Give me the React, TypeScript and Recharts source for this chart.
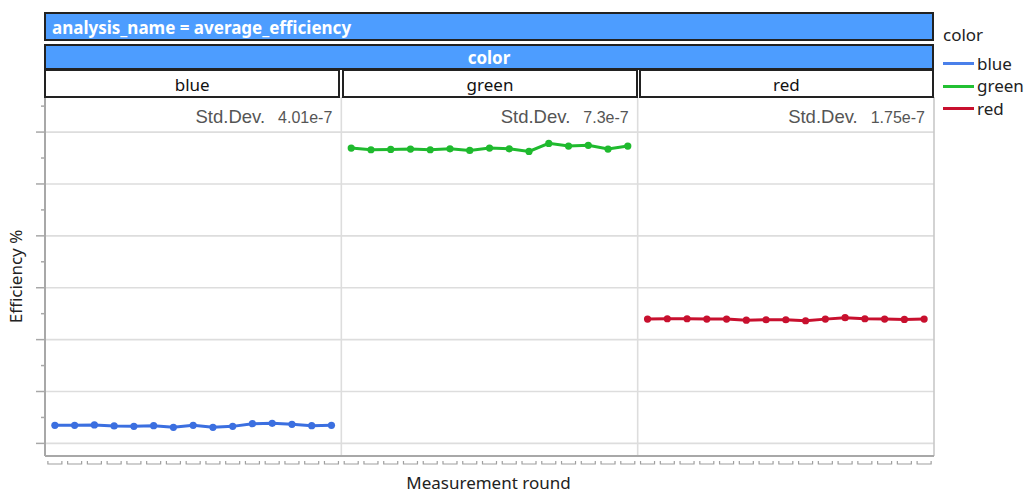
import React from 'react';
import { LineChart, Line, XAxis, YAxis, ReferenceLine } from 'recharts';

const panels = ['blue', 'green', 'red'];
const rounds = [1, 2, 3, 4, 5, 6, 7, 8, 9, 10, 11, 12, 13, 14, 15];
const blueValues = [13.48, 13.48, 13.55, 13.36, 13.28, 13.42, 13.09, 13.48, 13.09, 13.28, 13.8, 13.86, 13.67, 13.42, 13.48];
const greenValues = [66.91, 66.59, 66.66, 66.72, 66.59, 66.78, 66.47, 66.91, 66.78, 66.28, 67.82, 67.3, 67.44, 66.72, 67.3];
const redValues = [33.95, 34.02, 34.02, 33.95, 33.95, 33.75, 33.83, 33.83, 33.64, 33.95, 34.22, 34.02, 33.95, 33.89, 33.95];
const stdDevLabels = ['4.01e-7', '7.3e-7', '1.75e-7'];
const majorTicks = [10, 20, 30, 40, 50, 60, 70];
const minorTicks = [15, 25, 35, 45, 55, 65, 75];
const yDomain = [7.57, 76.76];
const seriesColors: Record<string, string> = { blue: '#3b6fe0', green: '#1fba2e', red: '#c8102e' };
const legendColors: Record<string, string> = { blue: '#4a80ea', green: '#22c032', red: '#c8102e' };

const panelValues: Record<string, number[]> = { blue: blueValues, green: greenValues, red: redValues };

const rows = panels.flatMap((p, pi) =>
  rounds.map((r, ri) => {
    const row: Record<string, number | null> = { idx: pi * rounds.length + ri, round: r };
    panels.forEach((q) => {
      row[q] = q === p ? panelValues[p][ri] : null;
    });
    return row;
  })
);

const xTicks = rows.map((r) => r.idx as number);
const yTicks = [...majorTicks, ...minorTicks].sort((a, b) => a - b);
const nRounds = rounds.length;
const panelBounds = [nRounds - 0.5, 2 * nRounds - 0.5];

const W = 1030;
const H = 499;
const M = { top: 97, right: 96, left: 15, bottom: 0 };
const Y_AXIS_W = 30;
const X_AXIS_H = 43;
const plotLeft = M.left + Y_AXIS_W;
const plotRight = W - M.right;
const plotW = plotRight - plotLeft;
const panelW = plotW / panels.length;

const uiFont = '"Noto Sans", "Open Sans", sans-serif';
const arial = '"Liberation Sans", Arial, sans-serif';

const XTick = (props: any) => {
  const { x, y } = props;
  return (
    <path d={`M${x - 7},${y + 5} L${x - 7},${y + 8} L${x + 7},${y + 8} L${x + 7},${y + 5}`} stroke="#a0a0a0" strokeWidth={1.2} fill="none" />
  );
};

const YTick = (props: any) => {
  const { x, y, payload } = props;
  const major = majorTicks.includes(payload.value);
  const len = major ? 9 : 4;
  return <line x1={x - len} y1={y} x2={x} y2={y} stroke="#a8a8a8" strokeWidth={1.5} />;
};

export default function App() {
  return (
    <div style={{ position: 'absolute', left: 0, top: 0, width: W, height: H, background: '#fff', fontFamily: uiFont }}>
      <LineChart width={W} height={H} data={rows} margin={M}>
        {majorTicks.map((t) => (
          <ReferenceLine key={'g' + t} y={t} stroke="#dddddd" strokeWidth={1.6} />
        ))}
        {panelBounds.map((b) => (
          <ReferenceLine key={'v' + b} x={b} stroke="#dddddd" strokeWidth={1.6} />
        ))}
        <ReferenceLine x={xTicks.length - 0.5} stroke="#c8c8c8" strokeWidth={1.6} />
        <XAxis
          type="number"
          dataKey="idx"
          domain={[-0.5, xTicks.length - 0.5]}
          ticks={xTicks}
          interval={0}
          allowDataOverflow
          height={X_AXIS_H}
          tickLine={false}
          tickSize={0}
          tickMargin={0}
          axisLine={{ stroke: '#a8a8a8', strokeWidth: 2 }}
          tick={<XTick />}
          label={{
            content: (p: any) => {
              const vb = p.viewBox || { x: plotLeft, y: H - X_AXIS_H, width: plotW, height: X_AXIS_H };
              return (
                <text x={vb.x + vb.width / 2 - 1} y={vb.y + 26} textAnchor="middle" dominantBaseline="central" fontFamily={uiFont} fontSize={17} fill="#222">
                  Measurement round
                </text>
              );
            },
          }}
        />
        <YAxis
          type="number"
          domain={yDomain}
          ticks={yTicks}
          interval={0}
          allowDataOverflow
          width={Y_AXIS_W}
          tickLine={false}
          tickSize={0}
          tickMargin={0}
          axisLine={{ stroke: '#a8a8a8', strokeWidth: 2 }}
          tick={<YTick />}
          label={{
            content: (p: any) => {
              const vb = p.viewBox || { x: M.left, y: M.top, width: Y_AXIS_W, height: H - M.top - X_AXIS_H };
              const cy = vb.y + vb.height / 2;
              return (
                <text x={15} y={cy} transform={`rotate(-90 15 ${cy})`} textAnchor="middle" dominantBaseline="central" fontFamily={uiFont} fontSize={17} fill="#222">
                  Efficiency %
                </text>
              );
            },
          }}
        />
        {panels.map((p) => (
          <Line
            key={p}
            dataKey={p}
            type="linear"
            stroke={seriesColors[p]}
            strokeWidth={3}
            dot={{ r: 3.6, fill: seriesColors[p], stroke: 'none' }}
            activeDot={false}
            connectNulls={false}
            isAnimationActive={false}
          />
        ))}
      </LineChart>

      {/* facet strips */}
      <div
        style={{
          position: 'absolute', left: 44, top: 12, width: plotRight - 44, height: 29, boxSizing: 'border-box',
          background: '#4d9dff', border: '2px solid #222', color: '#fff', fontWeight: 700, fontSize: 17,
          lineHeight: '27px', paddingLeft: 6, whiteSpace: 'nowrap',
        }}
      >
        analysis_name = average_efficiency
      </div>
      <div
        style={{
          position: 'absolute', left: 44, top: 44, width: plotRight - 44, height: 26, boxSizing: 'border-box',
          background: '#4d9dff', border: '2px solid #222', color: '#fff', fontWeight: 700, fontSize: 17,
          lineHeight: '24px', textAlign: 'center',
        }}
      >
        color
      </div>
      {panels.map((p, i) => (
        <div
          key={'strip' + p}
          style={{
            position: 'absolute', left: (i === 0 ? 44 : plotLeft + i * panelW + 1), top: 69,
            width: (i === 0 ? plotLeft + panelW - 44 - 1 : panelW - 1), height: 28.5, boxSizing: 'border-box',
            background: '#fff', border: '2px solid #222', color: '#111', fontSize: 17,
            lineHeight: '27px', textAlign: 'center',
          }}
        >
          {p}
        </div>
      ))}

      {/* std dev annotations */}
      {panels.map((p, i) => (
        <div
          key={'sd' + p}
          style={{
            position: 'absolute', left: plotLeft + i * panelW, top: 106, width: panelW - 9, height: 24,
            display: 'flex', justifyContent: 'flex-end', alignItems: 'baseline', color: '#555', fontFamily: arial,
          }}
        >
          <span style={{ fontSize: 18.5 }}>Std.Dev.</span>
          <span style={{ fontSize: 16, marginLeft: 13 }}>{stdDevLabels[i]}</span>
        </div>
      ))}

      {/* legend */}
      <div style={{ position: 'absolute', left: 943, top: 23, fontSize: 17, color: '#222' }}>color</div>
      {panels.map((p, i) => (
        <div key={'lg' + p} style={{ position: 'absolute', left: 943, top: 51.5 + i * 22.7, height: 24, display: 'flex', alignItems: 'center' }}>
          <div style={{ width: 31, height: 3, background: legendColors[p] }} />
          <span style={{ marginLeft: 3, fontSize: 17, color: '#222', lineHeight: '24px' }}>{p}</span>
        </div>
      ))}
    </div>
  );
}
